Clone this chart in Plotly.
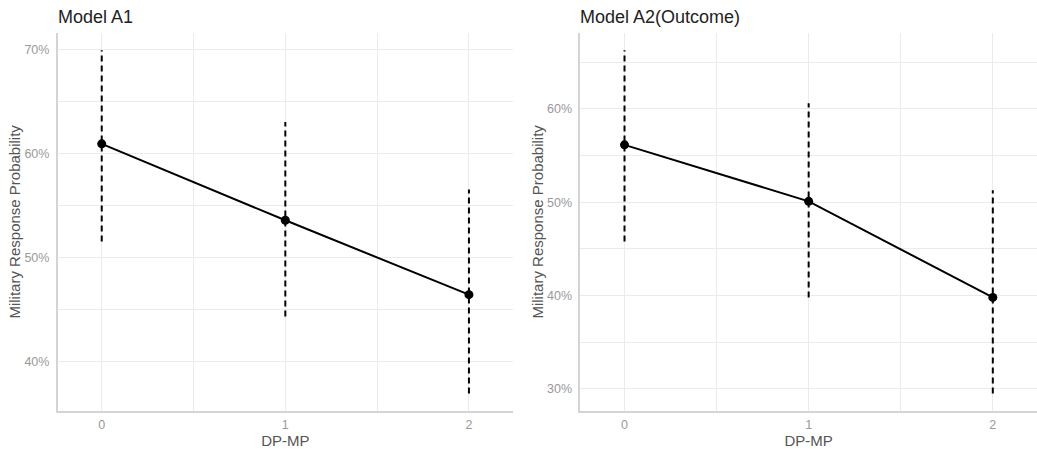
import plotly.graph_objects as go

x_vals = [0, 1, 2]
a1_est = [60.9, 53.55, 46.4]
a1_low = [51.5, 44.3, 36.9]
a1_high = [69.9, 63.0, 56.5]

a2_est = [56.15, 50.1, 39.8]
a2_low = [45.8, 39.8, 29.5]
a2_high = [66.3, 60.6, 51.3]

titles = ["Model A1", "Model A2(Outcome)"]
y_title = "Military Response Probability"
x_title = "DP-MP"

fig = go.Figure()

def add_panel(est, low, high, xa, ya):
    ex, ey = [], []
    for xv, lo, hi in zip(x_vals, low, high):
        ex += [xv, xv, None]
        ey += [lo / 100, hi / 100, None]
    fig.add_trace(go.Scatter(x=ex, y=ey, mode="lines", xaxis=xa, yaxis=ya,
                             line=dict(color="black", width=2, dash="6px,4px"),
                             showlegend=False, hoverinfo="skip"))
    fig.add_trace(go.Scatter(x=x_vals, y=[v / 100 for v in est], mode="lines+markers",
                             xaxis=xa, yaxis=ya,
                             line=dict(color="black", width=2),
                             marker=dict(color="black", size=9),
                             showlegend=False))

add_panel(a1_est, a1_low, a1_high, "x", "y")
add_panel(a2_est, a2_low, a2_high, "x2", "y2")

FONT = "Liberation Sans, Arial, sans-serif"
grid = "#ebebeb"
axis_line = "#d4d4d4"
tickfont = dict(family=FONT, size=12.5, color="#999999")
titlefont = dict(family=FONT, size=15, color="#555555")

xcommon = dict(range=[-0.24, 2.24], tickvals=[0, 1, 2], ticktext=["0", "1", "2"],
               showgrid=True, gridcolor=grid, gridwidth=1,
               minor=dict(tickvals=[0.5, 1.5], showgrid=True, gridcolor=grid, gridwidth=1),
               showline=True, linecolor=axis_line, linewidth=1.5,
               zeroline=False, ticks="", tickfont=tickfont, automargin=False,
               ticklabelstandoff=2,
               title=dict(text=x_title, font=titlefont, standoff=2))

ycommon = dict(tickformat=".0%", showgrid=True, gridcolor=grid,
               showline=True, linecolor=axis_line, linewidth=1.5, zeroline=False,
               ticks="", tickfont=tickfont, automargin=False, ticklabelstandoff=4,
               title=dict(text=y_title, font=titlefont, standoff=0))

fig.update_layout(
    width=1037, height=449,
    margin=dict(l=0, r=0, t=0, b=0),
    plot_bgcolor="white", paper_bgcolor="white",
    xaxis=dict(domain=[0.0556, 0.4947], anchor="y", **xcommon),
    xaxis2=dict(domain=[0.5596, 1.0], anchor="y2", **xcommon),
    yaxis=dict(domain=[0.0853, 0.9265], anchor="x", range=[0.3525, 0.7155],
               tickvals=[0.4, 0.5, 0.6, 0.7],
               minor=dict(tickvals=[0.45, 0.55, 0.65], showgrid=True, gridcolor=grid),
               **ycommon),
    yaxis2=dict(domain=[0.0853, 0.9265], anchor="x2", range=[0.2766, 0.6814],
                tickvals=[0.3, 0.4, 0.5, 0.6],
                minor=dict(tickvals=[0.35, 0.45, 0.55, 0.65], showgrid=True, gridcolor=grid),
                **ycommon),
    annotations=[
        dict(text=titles[0], x=0.0556, y=1 - 17 / 449, xref="paper", yref="paper",
             xanchor="left", yanchor="middle", showarrow=False, xshift=-2,
             font=dict(family=FONT, size=18, color="#222222")),
        dict(text=titles[1], x=0.5596, y=1 - 17 / 449, xref="paper", yref="paper",
             xanchor="left", yanchor="middle", showarrow=False, xshift=-2,
             font=dict(family=FONT, size=18, color="#222222")),
    ],
)

fig.write_html("out.html", config={"displayModeBar": False},
               post_script="document.body.style.margin='0';document.body.style.overflow='hidden';")
